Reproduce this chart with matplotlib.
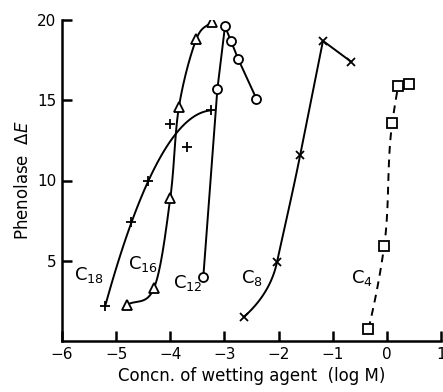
import numpy as np
import matplotlib
matplotlib.use("Agg")
import matplotlib.pyplot as plt

# Data (log M, Phenolase dE)
c18_x = [-5.2, -4.72, -4.41, -4.0, -3.69, -3.25]
c18_y = [2.2, 7.4, 10.0, 13.5, 12.1, 14.4]
c16_x = [-4.8, -4.3, -4.0, -3.84, -3.52, -3.23]
c16_y = [2.25, 3.3, 8.9, 14.6, 18.8, 19.9]
c12_x = [-3.39, -3.13, -2.99, -2.88, -2.75, -2.41]
c12_y = [4.0, 15.7, 19.6, 18.7, 17.6, 15.1]
c8_x = [-2.64, -2.03, -1.6, -1.18, -0.66]
c8_y = [1.5, 4.9, 11.6, 18.7, 17.4]
c4_x = [-0.34, -0.05, 0.1, 0.21, 0.41]
c4_y = [0.75, 5.9, 13.6, 15.9, 16.0]

x_ticks = [-6, -5, -4, -3, -2, -1, 0, 1]
y_ticks = [5, 10, 15, 20]

# approximate display scale (pixels per data unit) used to make curves look natural
SX, SY = 54.0, 16.0


def catmull(xs, ys, n=30):
    p = np.column_stack([xs, ys]).astype(float)
    p = np.vstack([2 * p[0] - p[1], p, 2 * p[-1] - p[-2]])
    out = []
    for i in range(1, len(p) - 2):
        p0, p1, p2, p3 = p[i - 1], p[i], p[i + 1], p[i + 2]
        t = np.linspace(0, 1, n)[:, None]
        seg = 0.5 * ((2 * p1) + (-p0 + p2) * t + (2 * p0 - 5 * p1 + 4 * p2 - p3) * t ** 2
                     + (-p0 + 3 * p1 - 3 * p2 + p3) * t ** 3)
        out.append(seg)
    s = np.vstack(out)
    return s[:, 0], s[:, 1]


def smooth(xs, ys, n=40, forward=False):
    """Chord-length parametrised cubic Hermite curve through the points."""
    P = np.column_stack([np.asarray(xs, float) * SX, np.asarray(ys, float) * SY])
    D = np.diff(P, axis=0)
    h = np.linalg.norm(D, axis=1)
    U = D / h[:, None]
    m = np.zeros_like(P)
    for k in range(1, len(P) - 1):
        if forward:
            m[k] = U[k]
        else:
            m[k] = (U[k] * h[k - 1] + U[k - 1] * h[k]) / (h[k - 1] + h[k])
    m[0] = 2 * U[0] - m[1]
    m[-1] = U[-1] if forward else 2 * U[-1] - m[-2]
    out = []
    s = np.linspace(0, 1, n)[:, None]
    h00 = 2 * s**3 - 3 * s**2 + 1
    h10 = s**3 - 2 * s**2 + s
    h01 = -2 * s**3 + 3 * s**2
    h11 = s**3 - s**2
    for k in range(len(h)):
        out.append(h00 * P[k] + h10 * h[k] * m[k] + h01 * P[k + 1] + h11 * h[k] * m[k + 1])
    c = np.vstack(out)
    return c[:, 0] / SX, c[:, 1] / SY


fig = plt.figure(figsize=(4.43, 3.92), dpi=100)
ax = fig.add_axes([62 / 443, 51 / 392, (441 - 62) / 443, (341 - 20) / 392])

lw = 1.4
mk = dict(color="black", markerfacecolor="white", markeredgecolor="black",
          linestyle="none", markeredgewidth=1.3, zorder=3)

# C18: fitted quadratic curve y(x), endpoints weighted
coef = np.polyfit(c18_x, c18_y, 2, w=[4, 1, 1, 1, 1, 4])
xx = np.linspace(min(c18_x), max(c18_x), 100)
ax.plot(xx, np.polyval(coef, xx), color="black", lw=lw)
ax.plot(c18_x, c18_y, marker="+", markersize=7, **mk)

sx, sy = catmull(c16_x, c16_y)
ax.plot(sx, sy, color="black", lw=lw)
ax.plot(c16_x, c16_y, marker="^", markersize=7.5, **mk)

ax.plot(c12_x, c12_y, color="black", lw=lw)
ax.plot(c12_x, c12_y, marker="o", markersize=6.5, **mk)

sx, sy = smooth(c8_x[:4], c8_y[:4], forward=True)
ax.plot(sx, sy, color="black", lw=lw)
ax.plot(c8_x[3:], c8_y[3:], color="black", lw=lw)
ax.plot(c8_x, c8_y, marker="x", markersize=6, **mk)

sx, sy = smooth(c4_x[:4], c4_y[:4])
ax.plot(sx, sy, color="black", lw=lw, linestyle=(0, (4, 3)))
ax.plot(c4_x[3:], c4_y[3:], color="black", lw=lw)
ax.plot(c4_x, c4_y, marker="s", markersize=7, **mk)

fs = 11
def clabel(x, y, sub):
    ax.text(x, y, "C$_{%s}$" % sub, fontsize=13, ha="center", va="center")

clabel(-5.5, 4.1, "18")
clabel(-4.5, 4.8, "16")
clabel(-3.68, 3.6, "12")
clabel(-2.5, 3.9, "8")
clabel(-0.45, 3.9, "4")

ax.set_xlim(-6, 1)
ax.set_ylim(0, 20)
ax.set_xticks(x_ticks)
ax.set_xticklabels(["\u22126", "\u22125", "\u22124", "\u22123", "\u22122", "\u22121", "0", "1"])
ax.set_yticks(y_ticks)
ax.tick_params(direction="in", length=7, width=1.8, labelsize=fs, pad=4)
for s in ["top", "right"]:
    ax.spines[s].set_visible(False)
for s in ["left", "bottom"]:
    ax.spines[s].set_linewidth(1.8)
ax.set_xlabel("Concn. of wetting agent  (log M)", fontsize=fs + 1)
ax.set_ylabel("Phenolase  $\\Delta E$", fontsize=fs + 1)

fig.savefig("out.png", dpi=100)
